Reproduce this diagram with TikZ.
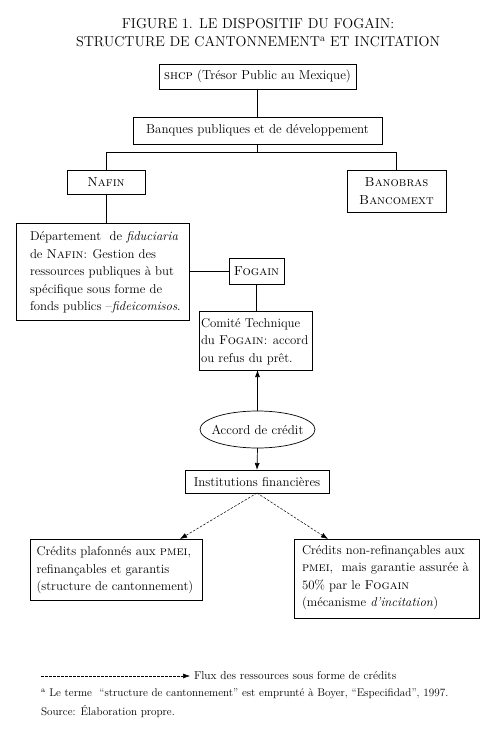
\documentclass[tikz,border=0pt]{standalone}
\usepackage{fontspec}
\usetikzlibrary{arrows.meta,shapes.geometric,calc}
\begin{document}
\begin{tikzpicture}[x=1pt,y=-1pt,
  every node/.style={inner sep=0pt,outer sep=0pt},
  box/.style={draw,line width=0.7pt,font=\fontsize{13}{17.5}\selectfont},
  btxt/.style={anchor=west,align=left,font=\fontsize{12.8}{17.5}\selectfont},
  solid arrow/.style={line width=0.7pt,-{Latex[length=7pt,width=5pt]}},
  flow/.style={line width=0.5pt,dash pattern=on 2.5pt off 1.5pt,-{Latex[length=7pt,width=5pt]}},
  link/.style={line width=0.7pt}]
\useasboundingbox (0,0) rectangle (498,730);
\fill[white] (0,0) rectangle (498,730);
% title
\node[align=center,font=\fontsize{14.3}{18}\selectfont] (title) at (258,33)
  {FIGURE 1. LE DISPOSITIF DU FOGAIN:\\STRUCTURE DE CANTONNEMENT\textsuperscript{a} ET INCITATION};
% boxes
\node[box,minimum width=197,minimum height=25] (shcp) at (257.5,76.5) {\textsc{shcp} (Trésor Public au Mexique)};
\node[box,minimum width=249,minimum height=27] (banques) at (257.5,130.5) {Banques publiques et de développement};
\node[box,minimum width=78,minimum height=24] (nafin) at (106,182) {\textsc{Nafin}};
\node[box,minimum width=99,minimum height=42,align=center] (banobras) at (396.5,191) {\textsc{Banobras}\\\textsc{Bancomext}};
\node[box,minimum width=173,minimum height=97] (dept) at (102.5,271.5) {};
\node[btxt] (depttext) at ([xshift=14pt,yshift=-1pt]dept.west)
  {Département\ \ de \textit{fiduciaria}\\de \textsc{Nafin}: Gestion des\\ressources publiques à but\\spécifique sous forme de\\fonds publics –\textit{fideicomisos}.};
\node[box,minimum width=55,minimum height=26] (fogain) at (256.5,271) {\textsc{Fogain}};
\node[box,minimum width=113,minimum height=59] (comite) at (255.5,340.5) {};
\node[btxt] (comitetext) at ([xshift=2pt,yshift=-1pt]comite.west)
  {Comité Technique\\du \textsc{Fogain}: accord\\ou refus du prêt.};
\node[draw,ellipse,line width=0.7pt,minimum width=115,minimum height=37] (accord) at (257.5,429.5) {};
\node[font=\fontsize{13}{17.5}\selectfont] (accordtext) at (accord.center) {Accord de crédit};
\node[box,minimum width=144,minimum height=23] (inst) at (257,481.5) {Institutions financières};
\node[box,minimum width=172,minimum height=61] (left) at (116.5,569.5) {};
\node[btxt] (lefttext) at ([xshift=6pt,yshift=-1pt]left.west)
  {Crédits plafonnés aux \textsc{pmei},\\refinançables et garantis\\(structure de cantonnement)};
\node[box,minimum width=185,minimum height=79] (right) at (386.5,578.5) {};
\node[btxt] (righttext) at ([xshift=8pt,yshift=1pt]right.west)
  {Crédits non-refinançables aux\\\textsc{pmei},\ \ mais garantie assurée à\\50\% par le \textsc{Fogain}\\(mécanisme \textit{d'incitation})};
% connectors
\draw[link] (shcp.south) -- (banques.north);
\draw[link] (banques.south) -- ++(0,8) coordinate (split) -| (nafin.north);
\draw[link] (split) -| (banobras.north);
\draw[link] (nafin.south) -- (nafin.south |- dept.north);
\draw[link] (fogain.west) -- (fogain.west -| dept.east);
\draw[link] (fogain.south) -- (fogain.south |- comite.north);
\draw[solid arrow] (accord.north) -- (accord.north |- comite.south);
\draw[solid arrow] (accord.south) -- (inst.north);
\coordinate (ltip) at (180,539);
\coordinate (rtip) at (328,539);
\draw[flow] (inst.south) -- (ltip);
\draw[flow] (inst.south) -- (rtip);
% legend
\coordinate (legA) at (41,676);
\node[anchor=west,font=\fontsize{11.5}{12}\selectfont] (legtxt) at (194,676) {Flux des ressources sous forme de crédits};
\draw[flow] (legA) -- ([xshift=-4pt]legtxt.west);
\node[anchor=west,font=\fontsize{11.2}{12}\selectfont] (foot) at (41,694)
  {\textsuperscript{a} Le terme\ \ “structure de cantonnement” est emprunté à Boyer, “Especifidad”, 1997.};
\node[anchor=west,font=\fontsize{11.2}{12}\selectfont] (source) at (41,712) {Source: Élaboration propre.};
\end{tikzpicture}
\end{document}
